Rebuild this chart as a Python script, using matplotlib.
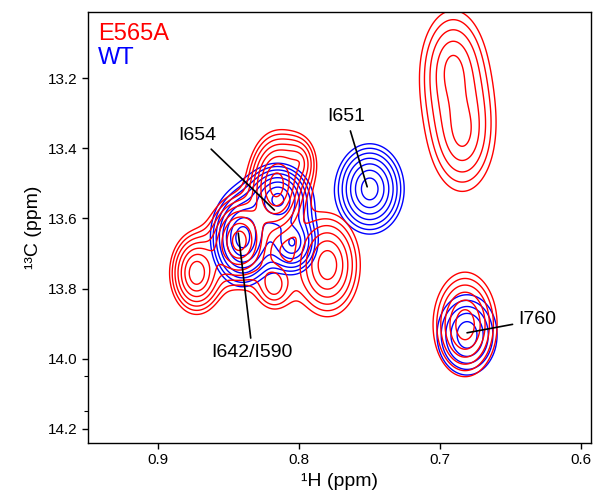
import numpy as np
import matplotlib
matplotlib.use("Agg")
import matplotlib.pyplot as plt
from matplotlib.ticker import FixedLocator

plt.rcParams['font.family'] = ['Liberation Sans', 'DejaVu Sans']

# picos (1H ppm, 13C ppm, ancho 1H, ancho 13C, altura)
mut_h = [0.691, 0.684, 0.6823, 0.780, 0.873, 0.8426, 0.8163, 0.818, 0.800]
mut_c = [13.17, 13.36, 13.903, 13.733, 13.756, 13.664, 13.505, 13.79, 13.44]
mut_sh = [0.019, 0.019, 0.0155, 0.0160, 0.0117, 0.013, 0.012, 0.011, 0.010]
mut_sc = [0.14, 0.14, 0.101, 0.101, 0.072, 0.075, 0.087, 0.06, 0.06]
mut_alt = [3.3, 3.3, 5.9, 5.8, 8.0, 10.0, 10.0, 3.0, 3.0]

wt_h = [0.750, 0.6809, 0.8404, 0.815, 0.805]
wt_c = [13.516, 13.932, 13.655, 13.545, 13.67]
wt_sh = [0.0152, 0.0164, 0.013, 0.014, 0.012]
wt_sc = [0.080, 0.088, 0.08, 0.06, 0.06]
wt_alt = [7.7, 4.4, 10.0, 9.0, 6.0]

# asignaciones: texto, posicion del texto, posicion del pico
etiquetas = ["I654", "I651", "I642/I590", "I760"]
etq_h = [0.8723, 0.7667, 0.8333, 0.6312]
etq_c = [13.365, 13.311, 13.981, 13.889]
pico_h = [0.8177, 0.7518, 0.8433, 0.6809]
pico_c = [13.576, 13.51, 13.642, 13.926]

niveles = 1.35 ** np.arange(16)


def espectro(X, Y, ch, cc, sh, sc, alt):
    Z = np.zeros_like(X)
    for x0, y0, a, b, h in zip(ch, cc, sh, sc, alt):
        d = np.hypot((X - x0) / a, (Y - y0) / b)
        Z += h * np.exp(-d ** 1.5)
    return Z


xs = np.linspace(0.58, 0.96, 500)
ys = np.linspace(12.95, 14.3, 500)
X, Y = np.meshgrid(xs, ys)

fig = plt.figure(figsize=(5.93, 4.97), dpi=100)
ax = fig.add_axes([0.1484, 0.1087, 0.848, 0.867])

ax.contour(X, Y, espectro(X, Y, wt_h, wt_c, wt_sh, wt_sc, wt_alt),
           levels=niveles, colors='#0000ff', linewidths=1.0)
ax.contour(X, Y, espectro(X, Y, mut_h, mut_c, mut_sh, mut_sc, mut_alt),
           levels=niveles, colors='#ff0000', linewidths=1.0)

for txt, tx, ty, px, py in zip(etiquetas, etq_h, etq_c, pico_h, pico_c):
    ax.annotate(txt, xy=(px, py), xytext=(tx, ty), ha='center', va='center',
                fontsize=14, arrowprops=dict(arrowstyle='-', color='black', lw=1.2,
                                             shrinkA=2, shrinkB=0))

ax.text(0.02, 0.975, "E565A", transform=ax.transAxes, color='#ff0000',
        fontsize=17, ha='left', va='top')
ax.text(0.02, 0.918, "WT", transform=ax.transAxes, color='#0000ff',
        fontsize=17, ha='left', va='top')

ax.set_xlim(0.95, 0.593)
ax.set_ylim(14.24, 13.012)
ax.set_xticks([0.9, 0.8, 0.7, 0.6])
ax.set_xticklabels(["0.9", "0.8", "0.7", "0.6"])
ax.set_yticks([13.2, 13.4, 13.6, 13.8, 14.0, 14.2])
ax.yaxis.set_minor_locator(FixedLocator([14.05, 14.15]))
ax.tick_params(axis='both', which='major', labelsize=11, length=4, width=1)
ax.tick_params(axis='y', which='minor', length=3, width=0.8)
for s in ax.spines.values():
    s.set_linewidth(1.0)

ax.set_xlabel("¹H (ppm)", fontsize=14)
ax.set_ylabel("¹³C (ppm)", fontsize=14)

fig.savefig("out.png", dpi=100)
